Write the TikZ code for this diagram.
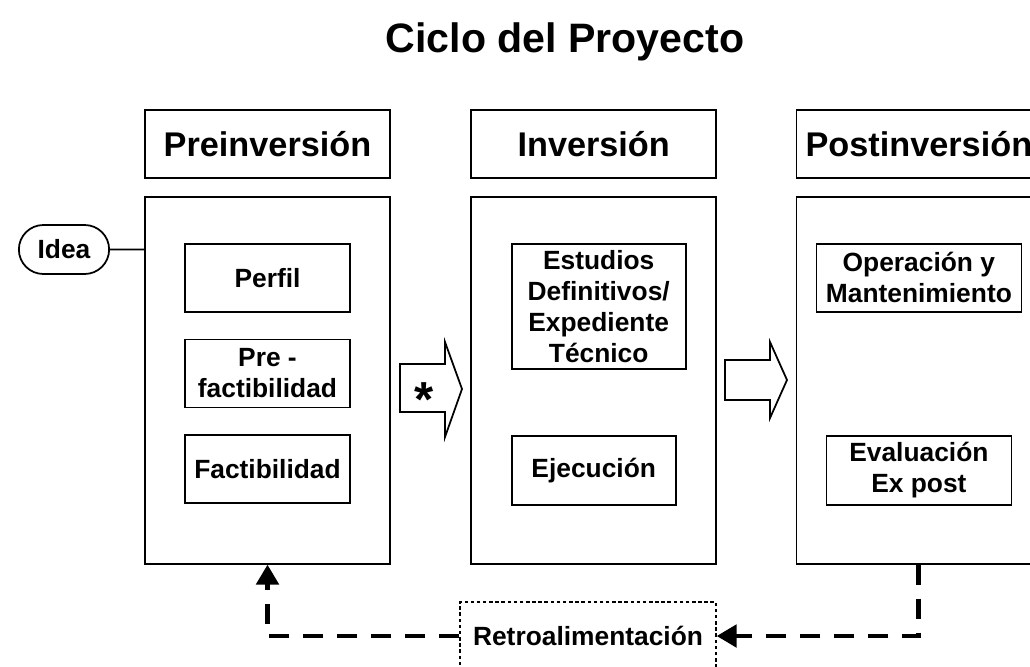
\documentclass[tikz,border=0pt]{standalone}
\usepackage{fontspec}
\setmainfont{Liberation Sans}
\usepackage{tikz}
\usetikzlibrary{shapes.misc, arrows.meta, positioning}
\tikzset{
    base/.style={text centered, align=center, font=\bfseries\fontsize{15}{17.6}\selectfont},
    phase/.style={base, rectangle, draw, line width=1pt, minimum width=4.9cm, minimum height=1.36cm, font=\bfseries\fontsize{19.5}{22}\selectfont},
    stage/.style={rectangle, draw, line width=1pt, minimum width=4.9cm, minimum height=7.34cm},
    task/.style={base, rectangle, draw, line width=1pt, minimum width=3.3cm, minimum height=1.36cm, inner sep=1pt},
    start/.style={base, rounded rectangle, draw, line width=1pt, minimum width=2.04cm, minimum height=0.98cm},
    bigarrow/.style={draw, line width=1pt, fill=white, line join=miter},
    feedback/.style={line width=2.8pt, dash pattern=on 0.4cm off 0.28cm, -{Triangle[length=0.4cm, width=0.44cm]}},
    note/.style={base, rectangle, draw, line width=0.7pt, dash pattern=on 2pt off 1.5pt, minimum width=5.12cm, minimum height=1.36cm}
}

\begin{document}
\begin{tikzpicture}[x=0.02cm, y=-0.02cm, node distance=0.52cm]
        \useasboundingbox (0,0) rectangle (1030,666);
        \clip (0,0) rectangle (1030,666);

        \node (title) [anchor=base, font=\bfseries\fontsize{23.4}{28}\selectfont] at (565,52) {Ciclo del Proyecto};

        % -- Phase headers --
        \node (preh) [phase] at (267.5,144) {Preinversión};
        \node (invh) [phase, right=1.59cm of preh] {Inversión};
        \node (posth) [phase, right=1.57cm of invh] {Postinversión};

        % -- Stage boxes --
        \node (prebox) [stage, below=0.34cm of preh] {};
        \node (invbox) [stage, below=0.34cm of invh] {};
        \node (postbox) [stage, below=0.34cm of posth] {};

        % -- Preinversion --
        \node (idea) [start] at (64,249.5) {Idea};
        \node (perfil) [task, below=0.94cm of prebox.north] {Perfil};
        \node (prefact) [task, below=of perfil] {Pre -\\factibilidad};
        \node (fact) [task, below=of prefact] {Factibilidad};

        % -- Inversion --
        \node (estudios) [task, minimum width=3.48cm, minimum height=2.5cm, below=0.94cm of invbox.north, xshift=0.1cm] {Estudios\\Definitivos/\\Expediente\\Técnico};
        \node (ejec) [task, minimum width=3.28cm, minimum height=1.38cm, below=4.78cm of invbox.north] {Ejecución};

        % -- Postinversion --
        \node (operacion) [task, minimum width=4.1cm, below=0.94cm of postbox.north] {Operación y\\Mantenimiento};
        \node (evaluacion) [task, minimum width=3.7cm, minimum height=1.38cm, below=4.78cm of postbox.north] {Evaluación\\Ex post};

        % big arrows between stages
        \draw [bigarrow] (400,364) -- (445,364) -- (445,342) -- (462,389) -- (445,437) -- (445,412) -- (400,412) -- cycle;
        \node (aster) [font=\bfseries\fontsize{28}{30}\selectfont] at (424,400) {*};
        \draw [bigarrow] (725,360) -- (770,360) -- (770,342) -- (787,380) -- (770,418) -- (770,400) -- (725,400) -- cycle;

        % -- Feedback --
        \node (retro) [note] at (588,636) {Retroalimentación};

        % Connectors
        \draw [line width=1pt] (idea) -- (idea -| prebox.west);
        \draw [feedback] (postbox.south) -- (postbox.south |- retro) -- (retro.east);
        \draw [feedback] (retro.west) -- (prebox.south |- retro) -- (prebox.south);
    \end{tikzpicture}
\end{document}
